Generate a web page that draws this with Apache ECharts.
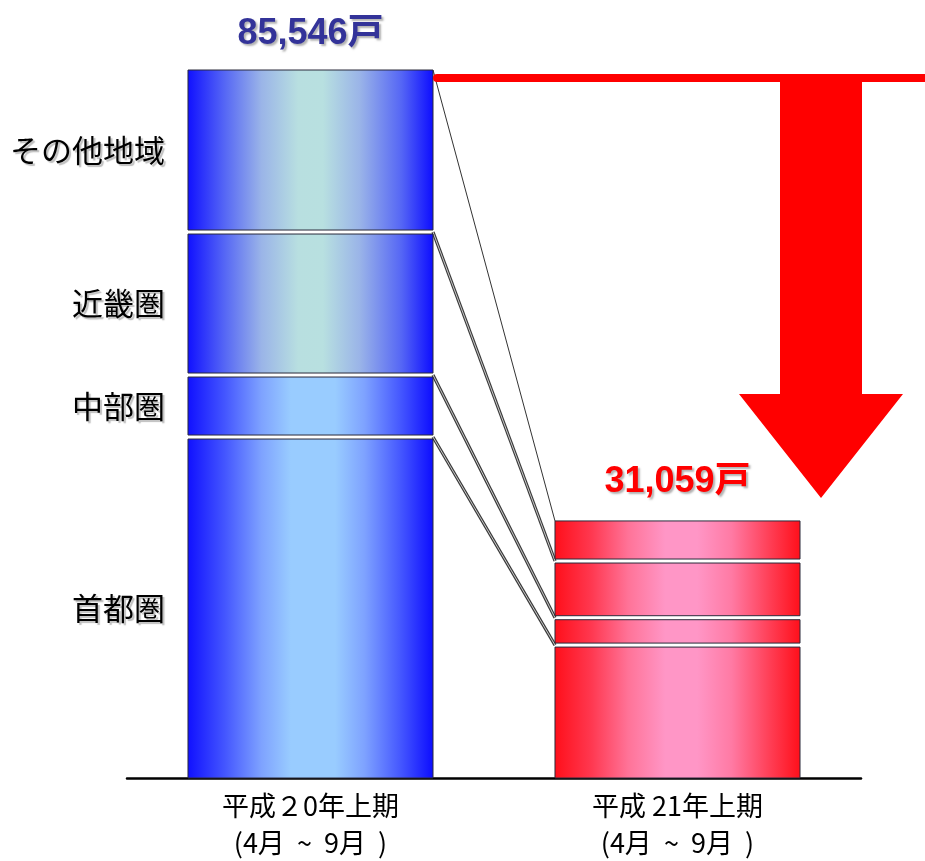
<!DOCTYPE html>
<html>
<head>
<meta charset="utf-8">
<script src="https://cdn.jsdelivr.net/npm/echarts@6/dist/echarts.min.js"></script>
<style>html,body{margin:0;padding:0;background:#fff;}#c{width:925px;height:861px;}</style>
</head>
<body>
<div id="c"></div>
<script>
// ---- data ----
const categories = ['平成２0年上期\n(4月  ~  9月  )', '平成 21年上期\n(4月  ~  9月  )'];
const regions = ['首都圏', '中部圏', '近畿圏', 'その他地域'];   // bottom -> top
const h20 = [41200, 7490, 17280, 19576];   // 平成20年上期
const h21 = [16060, 3307, 6849, 4843];     // 平成21年上期
const unit = '戸';

// ---- helpers ----
const byCat = [h20, h21];
const sum = a => a.reduce((s, v) => s + v, 0);
const cumulative = a => a.reduce((acc, v) => { acc.push((acc.length ? acc[acc.length - 1] : 0) + v); return acc; }, []);
const cum20 = cumulative(h20), cum21 = cumulative(h21);
const fmt = v => v.toLocaleString('en-US') + unit;
const BAR_RATIO = 0.6676;
const JP = '"Noto Sans CJK JP", "Noto Sans", sans-serif';

function grad(stops) {
  return new echarts.graphic.LinearGradient(0, 0, 1, 0, stops.map(c => ({ offset: c[0], color: c[1] })));
}
const blueDeep = () => grad([[0, '#1010ff'], [0.15, '#4355ff'], [0.3, '#7ea2ff'], [0.42, '#99ccff'], [0.6, '#99ccff'], [0.72, '#7ea2ff'], [0.87, '#4355ff'], [1, '#0c0cff']]);
const blueLight = () => grad([[0, '#1010ff'], [0.15, '#5566f5'], [0.3, '#9ab4e8'], [0.45, '#b8dfe0'], [0.55, '#b8e0e0'], [0.7, '#9ab4e8'], [0.87, '#5566f5'], [1, '#0c0cff']]);
const redFill = () => grad([[0, '#ff0f1a'], [0.15, '#ff3850'], [0.3, '#ff7398'], [0.45, '#ff96c6'], [0.58, '#ff96c6'], [0.72, '#ff7aa4'], [0.87, '#ff4058'], [1, '#ff0f1a']]);

function segmentRenderer(r) {
  return function (params, api) {
    const cat = api.value(0);
    const vals = byCat[cat];
    let base = 0;
    for (let i = 0; i < r; i++) base += vals[i];
    const top = base + vals[r];
    const p0 = api.coord([cat, base]);
    const p1 = api.coord([cat, top]);
    const bw = api.size([1, 0])[0] * BAR_RATIO;
    const x = p0[0] - bw / 2;
    const yTop = p1[1] + (r < regions.length - 1 ? 2 : 0);
    const yBot = p0[1] - (r > 0 ? 2 : 0);
    const fill = cat === 0 ? (r >= 2 ? blueLight() : blueDeep()) : redFill();
    const children = [{
      type: 'rect',
      shape: { x: x, y: yTop, width: bw, height: yBot - yTop },
      style: { fill: fill, stroke: '#2a2a3a', lineWidth: 1 }
    }];
    if (cat === 0) {
      children.push({
        type: 'text',
        style: {
          text: regions[r], x: x - 23, y: (yTop + yBot) / 2,
          align: 'right', verticalAlign: 'middle',
          font: '31px ' + JP, fill: '#000',
          textShadowColor: 'rgba(0,0,0,0.25)', textShadowOffsetX: 2, textShadowOffsetY: 2, textShadowBlur: 1
        }
      });
    }
    if (r === regions.length - 1) {
      children.push({
        type: 'text',
        style: {
          text: fmt(sum(vals)), x: p1[0], y: p1[1] - (cat === 0 ? 36 : 39),
          align: 'center', verticalAlign: 'middle',
          font: 'bold 36px "Liberation Sans", Arial, ' + JP,
          fill: cat === 0 ? '#333399' : '#ff0000',
          textShadowColor: 'rgba(0,0,0,0.3)', textShadowOffsetX: 2, textShadowOffsetY: 2, textShadowBlur: 2
        }
      });
    }
    return { type: 'group', children: children };
  };
}

const segSeries = regions.map((name, r) => ({
  type: 'custom',
  name: name,
  data: byCat.map((vals, c) => [c, vals[r]]),
  encode: { x: 0, y: 1 },
  renderItem: segmentRenderer(r),
  z: 3,
  silent: true
}));

const linkSeries = {
  type: 'custom',
  name: 'links',
  data: regions.map((_, i) => [0, cum20[i]]),
  encode: { x: 0, y: 1 },
  z: 2,
  silent: true,
  renderItem: function (params, api) {
    const i = params.dataIndex;
    const bw = api.size([1, 0])[0] * BAR_RATIO;
    const a = api.coord([0, cum20[i]]);
    const b = api.coord([1, cum21[i]]);
    const x1 = a[0] + bw / 2, x2 = b[0] - bw / 2;
    const shape = { x1: x1, y1: a[1], x2: x2, y2: b[1] };
    if (i === regions.length - 1) {
      return { type: 'line', shape: shape, style: { stroke: '#333', lineWidth: 1 } };
    }
    return {
      type: 'group', children: [
        { type: 'line', shape: shape, style: { stroke: '#3a3a3a', lineWidth: 3.2 } },
        { type: 'line', shape: shape, style: { stroke: '#c8c8c8', lineWidth: 1 } }
      ]
    };
  }
};

const chart = echarts.init(document.getElementById('c'), null, { renderer: 'canvas' });
chart.setOption({
  animation: false,
  backgroundColor: '#ffffff',
  grid: { left: 127, right: 64, top: 70, bottom: 83 },
  xAxis: {
    type: 'category',
    data: categories,
    axisLine: { show: true, lineStyle: { color: '#000', width: 2.5 } },
    axisTick: { show: false },
    axisLabel: { color: '#000', fontSize: 27, lineHeight: 37, fontFamily: JP, margin: 9 }
  },
  yAxis: {
    type: 'value', min: 0, max: sum(h20), show: false,
    splitLine: { show: false }
  },
  graphic: [
    { type: 'rect', shape: { x: 433, y: 74, width: 492, height: 8, r: [4, 0, 0, 4] }, style: { fill: '#ff0000' }, z: 10 },
    { type: 'polygon', shape: { points: [[780, 74], [862, 74], [862, 394], [903, 394], [821, 498], [739, 394], [780, 394]] }, style: { fill: '#ff0000' }, z: 10 }
  ],
  series: [linkSeries].concat(segSeries)
});
</script>
</body>
</html>
